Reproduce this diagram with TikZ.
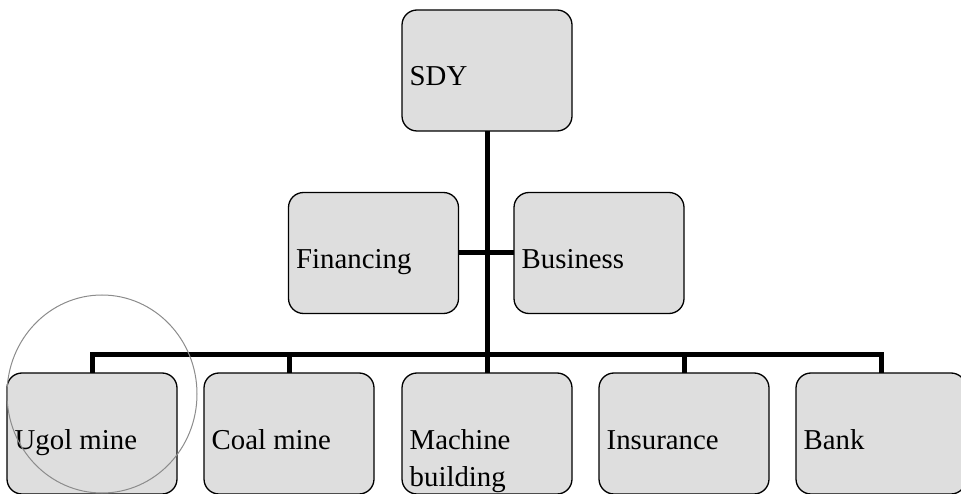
\documentclass[tikz,border=0pt]{standalone}
\usepackage{fontspec}
\setmainfont{Liberation Serif}
\usetikzlibrary{calc}
\definecolor{boxfill}{RGB}{222,222,222}
\definecolor{ringgray}{RGB}{140,140,140}
\begin{document}
\begin{tikzpicture}[x=1pt,y=-1pt,
  unit/.style={draw=black, line width=1.3pt, fill=boxfill, rounded corners=15pt,
    minimum width=170pt, minimum height=121pt, inner sep=0pt, outer sep=0pt},
  label/.style={anchor=base west, inner sep=0pt, align=left,
    font=\fontsize{28.8}{37}\selectfont},
  conn/.style={draw=black, line width=5pt}]
\useasboundingbox (0,0) rectangle (961,494);

% junction of the bottom bar under the top unit
\coordinate (hub) at (487,354);

% organisation boxes
\node[unit] (sdy) at (487,70.5) {};
\node[unit] (fin) at (373.5,253) {};
\node[unit] (bus) at (599,253) {};
\node[unit] (ugol) at (92,433.5) {};
\node[unit] (coal) at (289,433.5) {};
\node[unit] (mach) at (487,433.5) {};
\node[unit] (ins)  at (684,433.5) {};
\node[unit] (bank) at (881,433.5) {};

% tree connectors
\draw[conn] (sdy.south) -- (hub);
\draw[conn] (fin.east) -- (bus.west);
\foreach \c in {ugol,coal,mach,ins,bank}
  \draw[conn] (hub) -| (\c.north);

% labels (base anchor of a two-line label is its last line)
\node[label] at ($(sdy.west)+(7.5,15)$) {SDY};
\node[label] at ($(fin.west)+(7.5,15.5)$) {Financing};
\node[label] at ($(bus.west)+(7.5,15.5)$) {Business};
\node[label] at ($(ugol.west)+(7.5,15.5)$) {Ugol mine};
\node[label] at ($(coal.west)+(7.5,15.5)$) {Coal mine};
\node[label] at ($(mach.west)+(7.5,52.5)$) {Machine\\building};
\node[label] at ($(ins.west)+(7.5,15.5)$) {Insurance};
\node[label] at ($(bank.west)+(7.5,15.5)$) {Bank};

% highlight ring around the first unit
\draw[ringgray, line width=1pt] (102,394) ellipse [x radius=95, y radius=99];
\end{tikzpicture}
\end{document}
